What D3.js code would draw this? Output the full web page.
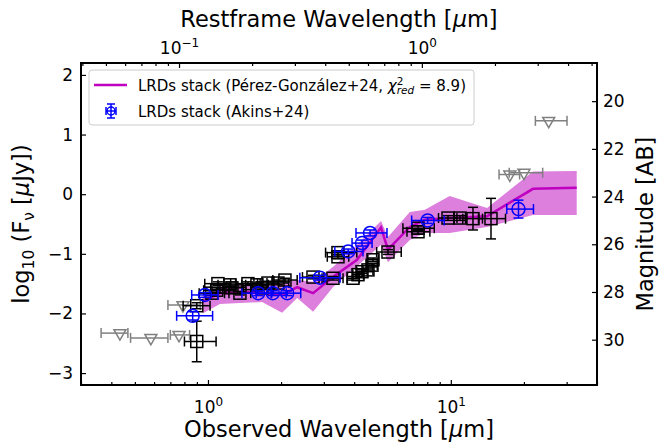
<!DOCTYPE html>
<html>
<head>
<meta charset="utf-8">
<script src="https://d3js.org/d3.v7.min.js"></script>
<style>
    body { margin: 0; background: white; }
    text { font-family: "DejaVu Sans", sans-serif; }
</style>
</head>
<body>
<div id="chart"></div>
<script>
// 1+z used for the restframe axis on top
var zPlusOne = 7.6;

// LRDs stack model (Perez-Gonzalez+24): wavelength [um], log10 flux and its band
var modelWave = [0.95, 1.12, 1.42, 1.67, 2.02, 2.33, 2.71, 3.27, 4.11, 5.16, 5.51, 6.78, 7.82, 9.89, 14.1, 21.8, 33.0];
var modelFlux = [-1.80, -1.66, -1.64, -1.66, -1.69, -1.56, -1.66, -1.39, -1.10, -0.56, -0.93, -0.55, -0.43, -0.40, -0.37, 0.09, 0.11];
var modelHigh = [-1.70, -1.54, -1.52, -1.55, -1.49, -1.44, -1.47, -1.22, -0.85, -0.45, -0.72, -0.30, -0.26, -0.03, -0.23, 0.38, 0.39];
var modelLow  = [-2.00, -1.84, -1.82, -1.81, -1.99, -1.74, -1.97, -1.56, -1.21, -0.85, -1.14, -0.77, -0.65, -0.65, -0.55, -0.35, -0.35];

// LRDs stack (Akins+24)
var akinsWave   = [0.865, 0.972, 1.61, 1.85, 2.12, 2.89, 3.78, 4.31, 4.65, 8.03, 19.0];
var akinsFlux   = [-2.04, -1.69, -1.66, -1.66, -1.66, -1.40, -0.96, -0.82, -0.65, -0.44, -0.25];
var akinsWaveLo = [0.743, 0.857, 1.38, 1.58, 1.82, 2.39, 3.33, 3.92, 4.07, 6.9, 17.0];
var akinsWaveHi = [1.045, 1.10, 1.83, 2.10, 2.41, 3.50, 4.35, 4.74, 5.46, 9.4, 21.9];
var akinsFluxErr = [0.07, 0.04, 0.04, 0.04, 0.04, 0.04, 0.04, 0.05, 0.05, 0.05, 0.15];

// individual photometry (black squares)
var photWave   = [0.899, 0.899, 1.036, 1.086, 1.099, 1.232, 1.255, 1.354, 1.461, 1.591, 1.669, 1.766, 1.942, 2.075, 2.707, 3.272, 3.43, 3.43, 3.956, 4.148, 4.308, 4.56, 4.737, 4.782, 5.512, 7.328, 7.328, 9.739, 10.91, 12.34, 14.64];
var photFlux   = [-2.47, -1.87, -1.66, -1.61, -1.50, -1.52, -1.57, -1.66, -1.50, -1.52, -1.57, -1.49, -1.49, -1.44, -1.39, -1.41, -0.98, -1.05, -1.41, -1.35, -1.30, -1.27, -1.19, -1.10, -0.97, -0.57, -0.63, -0.40, -0.40, -0.41, -0.41];
var photWaveLo = [0.80, 0.79, 0.92, 0.96, 0.97, 1.10, 1.12, 1.22, 1.30, 1.43, 1.50, 1.60, 1.75, 1.85, 2.45, 2.95, 3.05, 3.10, 3.75, 3.95, 4.10, 4.35, 4.50, 4.55, 4.95, 6.35, 6.6, 8.9, 10.3, 11.2, 13.0];
var photWaveHi = [1.08, 1.02, 1.17, 1.22, 1.24, 1.38, 1.40, 1.50, 1.64, 1.77, 1.86, 1.95, 2.15, 2.33, 3.00, 3.60, 4.10, 3.80, 4.20, 4.37, 4.53, 4.78, 4.98, 5.03, 6.25, 8.55, 8.2, 10.6, 11.5, 13.5, 16.8];
var photFluxErr = [0.34, 0.05, 0.04, 0.04, 0.03, 0.03, 0.03, 0.03, 0.03, 0.03, 0.03, 0.03, 0.03, 0.03, 0.03, 0.03, 0.03, 0.03, 0.03, 0.03, 0.03, 0.03, 0.03, 0.03, 0.04, 0.04, 0.04, 0.04, 0.04, 0.19, 0.34];

// upper limits (grey triangles)
var limWave   = [0.434, 0.582, 0.760, 0.789, 17.5, 20.0, 25.3];
var limFlux   = [-2.33, -2.41, -2.36, -1.86, 0.33, 0.36, 1.23];
var limWaveLo = [0.363, 0.48, 0.70, 0.684, 15.8, 17.4, 22.3];
var limWaveHi = [0.468, 0.684, 0.84, 0.93, 19.2, 23.9, 30.1];

// ticks
var obsMajor = [1, 10];
var obsMinor = [0.3, 0.4, 0.5, 0.6, 0.7, 0.8, 0.9, 2, 3, 4, 5, 6, 7, 8, 9, 20, 30, 40];
var restMajor = [0.1, 1];
var restMinor = [0.04, 0.05, 0.06, 0.07, 0.08, 0.09, 0.2, 0.3, 0.4, 0.5, 0.6, 0.7, 0.8, 0.9, 2, 3, 4, 5];
var fluxTicks = [-3, -2, -1, 0, 1, 2];
var magTicks = [20, 22, 24, 26, 28, 30];

var margin = {top: 63, right: 70, bottom: 57, left: 81},
    width = 667 - margin.left - margin.right,
    height = 442 - margin.top - margin.bottom;

var svg = d3.select("#chart")
    .append("svg")
        .attr("width", width + margin.left + margin.right)
        .attr("height", height + margin.top + margin.bottom)
    .append("g")
        .attr("transform", "translate(" + margin.left + "," + margin.top + ")");

var xDomain = [0.3, 40];
var yDomain = [-3.2, 2.2];
var x = d3.scaleLog().domain(xDomain).range([0, width]);
var xRest = d3.scaleLog().domain(xDomain.map(function(d) { return d / zPlusOne; })).range([0, width]);
var y = d3.scaleLinear().domain(yDomain).range([height, 0]);
// AB magnitude from log10 flux in uJy
var yMag = d3.scaleLinear().domain(yDomain.map(function(v) { return 23.9 - 2.5 * v; })).range([height, 0]);

function rows(n, f) { return d3.range(n).map(f); }
var model = rows(modelWave.length, function(i) { return {w: modelWave[i], v: modelFlux[i], lo: modelLow[i], hi: modelHigh[i]}; });
var akins = rows(akinsWave.length, function(i) { return {w: akinsWave[i], v: akinsFlux[i], wlo: akinsWaveLo[i], whi: akinsWaveHi[i], e: akinsFluxErr[i]}; });
var phot = rows(photWave.length, function(i) { return {w: photWave[i], v: photFlux[i], wlo: photWaveLo[i], whi: photWaveHi[i], e: photFluxErr[i]}; });
var lims = rows(limWave.length, function(i) { return {w: limWave[i], v: limFlux[i], wlo: limWaveLo[i], whi: limWaveHi[i], e: 0}; });

// model band and line
svg.append("path")
    .datum(model)
    .attr("fill", "#dd7fdd")
    .attr("d", d3.area()
        .x(function(d) { return x(d.w); })
        .y0(function(d) { return y(d.lo); })
        .y1(function(d) { return y(d.hi); }));
svg.append("path")
    .datum(model)
    .attr("fill", "none")
    .attr("stroke", "#bf00bf")
    .attr("stroke-width", 2.5)
    .attr("d", d3.line()
        .x(function(d) { return x(d.w); })
        .y(function(d) { return y(d.v); }));

function errorbars(data, color) {
    var g = svg.append("g")
        .attr("stroke", color)
        .attr("stroke-width", 1.5)
        .attr("fill", "none");
    var cap = 5;
    data.forEach(function(d) {
        var cx = x(d.w), cy = y(d.v);
        g.append("line").attr("x1", x(d.wlo)).attr("x2", x(d.whi)).attr("y1", cy).attr("y2", cy);
        g.append("line").attr("x1", x(d.wlo)).attr("x2", x(d.wlo)).attr("y1", cy - cap).attr("y2", cy + cap);
        g.append("line").attr("x1", x(d.whi)).attr("x2", x(d.whi)).attr("y1", cy - cap).attr("y2", cy + cap);
        if (d.e > 0) {
            var y1 = y(d.v + d.e), y2 = y(d.v - d.e);
            g.append("line").attr("x1", cx).attr("x2", cx).attr("y1", y1).attr("y2", y2);
            g.append("line").attr("x1", cx - cap).attr("x2", cx + cap).attr("y1", y1).attr("y2", y1);
            g.append("line").attr("x1", cx - cap).attr("x2", cx + cap).attr("y1", y2).attr("y2", y2);
        }
    });
    return g;
}

// upper limits
errorbars(lims, "#808080");
svg.append("g").selectAll("path")
    .data(lims)
    .enter()
    .append("path")
        .attr("d", d3.symbol(d3.symbolTriangle, 62))
        .attr("transform", function(d) { return "translate(" + x(d.w) + "," + y(d.v) + ") rotate(180)"; })
        .attr("fill", "none")
        .attr("stroke", "#808080")
        .attr("stroke-width", 1.5);

// photometry
errorbars(phot, "black");
svg.append("g").selectAll("rect")
    .data(phot)
    .enter()
    .append("rect")
        .attr("x", function(d) { return x(d.w) - 6; })
        .attr("y", function(d) { return y(d.v) - 6; })
        .attr("width", 12)
        .attr("height", 12)
        .attr("fill", "none")
        .attr("stroke", "black")
        .attr("stroke-width", 1.5);

// Akins+24 stack
errorbars(akins, "blue");
svg.append("g").selectAll("circle")
    .data(akins)
    .enter()
    .append("circle")
        .attr("cx", function(d) { return x(d.w); })
        .attr("cy", function(d) { return y(d.v); })
        .attr("r", 6.5)
        .attr("fill", "none")
        .attr("stroke", "blue")
        .attr("stroke-width", 1.5);

// axes, ticks pointing inwards
function styleAxis(g) {
    g.select(".domain").remove();
    g.selectAll(".tick line").attr("stroke", "black").attr("stroke-width", 1.2);
    g.selectAll(".tick text").attr("fill", "black").style("font-size", "17px").style("font-family", "DejaVu Sans");
}
function powerLabel(g, scale) {
    g.selectAll(".tick text").each(function(d) {
        var t = d3.select(this).text(null);
        var e = Math.round(Math.log10(d));
        t.append("tspan").text("10");
        t.append("tspan").attr("dy", "-7").style("font-size", "12px").text(e < 0 ? "\u2212" + (-e) : e);
    });
}

svg.append("g")
    .attr("transform", "translate(0," + height + ")")
    .call(d3.axisBottom(x).tickValues(obsMinor).tickSize(-3).tickFormat(""))
    .call(styleAxis);
svg.append("g")
    .attr("transform", "translate(0," + height + ")")
    .call(d3.axisBottom(x).tickValues(obsMajor).tickSize(-5).tickPadding(10))
    .call(styleAxis)
    .call(powerLabel)
    .selectAll(".tick text").attr("dy", "1.05em");

svg.append("g")
    .call(d3.axisTop(xRest).tickValues(restMinor).tickSize(-3).tickFormat(""))
    .call(styleAxis);
svg.append("g")
    .call(d3.axisTop(xRest).tickValues(restMajor).tickSize(-5).tickPadding(9))
    .call(styleAxis)
    .call(powerLabel);

svg.append("g")
    .call(d3.axisLeft(y).tickValues(fluxTicks).tickSize(-5).tickPadding(8).tickFormat(d3.format("d")))
    .call(styleAxis);
svg.append("g")
    .attr("transform", "translate(" + width + ",0)")
    .call(d3.axisRight(yMag).tickValues(magTicks).tickSize(-5).tickPadding(6).tickFormat(d3.format("d")))
    .call(styleAxis);

// frame
svg.append("rect")
    .attr("width", width)
    .attr("height", height)
    .attr("fill", "none")
    .attr("stroke", "black")
    .attr("stroke-width", 2);

// axis titles
var bottomTitle = svg.append("text")
    .attr("x", width / 2)
    .attr("y", height + 51.5)
    .style("text-anchor", "middle")
    .style("font-size", "22.5px");
bottomTitle.append("tspan").text("Observed Wavelength [");
bottomTitle.append("tspan").style("font-style", "italic").text("\u03bc");
bottomTitle.append("tspan").text("m]");

var topTitle = svg.append("text")
    .attr("x", width / 2)
    .attr("y", -36)
    .style("text-anchor", "middle")
    .style("font-size", "22.5px");
topTitle.append("tspan").text("Restframe Wavelength [");
topTitle.append("tspan").style("font-style", "italic").text("\u03bc");
topTitle.append("tspan").text("m]");

var leftTitle = svg.append("text")
    .attr("transform", "translate(" + (-52) + "," + (height / 2) + ") rotate(-90)")
    .style("text-anchor", "middle")
    .style("font-size", "22.5px");
leftTitle.append("tspan").text("log");
leftTitle.append("tspan").attr("dy", "5").style("font-size", "15.5px").text("10");
leftTitle.append("tspan").attr("dy", "-5").text(" (F");
leftTitle.append("tspan").attr("dy", "5").style("font-size", "15.5px").text("\u03bd");
leftTitle.append("tspan").attr("dy", "-5").text(" [");
leftTitle.append("tspan").style("font-style", "italic").text("\u03bc");
leftTitle.append("tspan").text("Jy])");

svg.append("text")
    .attr("transform", "translate(" + (width + 56) + "," + (height / 2) + ") rotate(-90)")
    .style("text-anchor", "middle")
    .style("font-size", "22.5px")
    .text("Magnitude [AB]");

// legend
var legend = svg.append("g").attr("transform", "translate(8,7)");
legend.append("rect")
    .attr("width", 385)
    .attr("height", 55)
    .attr("rx", 3)
    .attr("fill", "white")
    .attr("fill-opacity", 0.8)
    .attr("stroke", "#cccccc");
legend.append("line")
    .attr("x1", 5).attr("x2", 38)
    .attr("y1", 15).attr("y2", 15)
    .attr("stroke", "#bf00bf")
    .attr("stroke-width", 2.5);
var lg1 = legend.append("text")
    .attr("x", 49)
    .attr("y", 20.5)
    .style("font-size", "15px");
lg1.append("tspan").text("LRDs stack (P\u00e9rez-Gonz\u00e1lez+24, ");
lg1.append("tspan").style("font-style", "italic").text("\u03c7");
lg1.append("tspan").attr("dy", "-6").style("font-size", "10.5px").text("2");
lg1.append("tspan").attr("dx", "-6.7").attr("dy", "9").style("font-size", "10.5px").style("font-style", "italic").text("red");
lg1.append("tspan").attr("dy", "-3").text(" = 8.9)");

var eg = legend.append("g")
    .attr("stroke", "blue")
    .attr("stroke-width", 1.5)
    .attr("fill", "none")
    .attr("transform", "translate(22,41)");
eg.append("line").attr("x1", -5).attr("x2", 5).attr("y1", 0).attr("y2", 0);
eg.append("line").attr("x1", 0).attr("x2", 0).attr("y1", -7).attr("y2", 7);
eg.append("line").attr("x1", -5).attr("x2", -5).attr("y1", -4).attr("y2", 4);
eg.append("line").attr("x1", 5).attr("x2", 5).attr("y1", -4).attr("y2", 4);
eg.append("line").attr("x1", -4).attr("x2", 4).attr("y1", -7).attr("y2", -7);
eg.append("line").attr("x1", -4).attr("x2", 4).attr("y1", 7).attr("y2", 7);
eg.append("circle").attr("r", 4);
legend.append("text")
    .attr("x", 49)
    .attr("y", 46.5)
    .style("font-size", "15px")
    .text("LRDs stack (Akins+24)");
</script>
</body>
</html>
